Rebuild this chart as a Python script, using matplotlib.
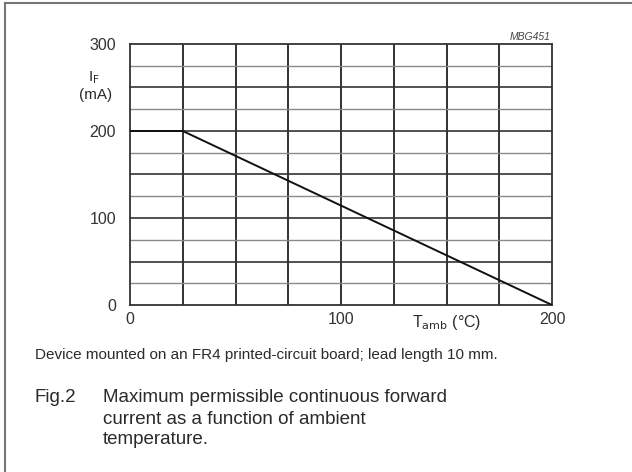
import matplotlib
matplotlib.use("Agg")
import matplotlib.pyplot as plt
from matplotlib.lines import Line2D

# Data
temp_c = [0, 25, 200]
current_ma = [200, 200, 0]
x_labels = ["0", "100", "200"]
x_label_pos = [0, 100, 200]
y_labels = ["0", "100", "200", "300"]
y_label_pos = [0, 100, 200, 300]
x_grid = [25, 50, 75, 100, 125, 150, 175]
y_grid_major = [50, 100, 150, 200, 250]
y_grid_minor = [25, 75, 125, 175, 225, 275]

plt.rcParams['font.family'] = ['Liberation Sans', 'DejaVu Sans']

fig = plt.figure(figsize=(6.32, 4.72), dpi=100)
W, H = 632, 472
ax = fig.add_axes([130 / W, 1 - 305 / H, (552 - 130) / W, (305 - 44) / H])
ax.set_xlim(0, 200)
ax.set_ylim(0, 300)

for x in x_grid:
    ax.axvline(x, color='#222222', lw=1.3, zorder=1)
for y in y_grid_major:
    ax.axhline(y, color='#333333', lw=1.2, zorder=1)
for y in y_grid_minor:
    ax.axhline(y, color='#8a8a8a', lw=1.0, zorder=1)

ax.plot(temp_c, current_ma, color='#111111', lw=1.4, zorder=3)

for s in ax.spines.values():
    s.set_color('#333333')
    s.set_linewidth(1.3)

ax.set_xticks(x_label_pos)
ax.set_xticklabels(x_labels)
ax.set_yticks(y_label_pos)
ax.set_yticklabels(y_labels)
ax.tick_params(length=0, labelsize=11.5, colors='#333333')
ax.tick_params(axis='x', pad=5)
ax.tick_params(axis='y', pad=10)

txt = '#2a2a2a'
fig.text(94 / W, 1 - 78 / H, r'I$_{\rm F}$', ha='center', va='center', fontsize=11, color=txt)
fig.text(96 / W, 1 - 95 / H, '(mA)', ha='center', va='center', fontsize=11, color=txt)
fig.text(447 / W, 1 - 322 / H, r'T$_{\rm amb}$ (°C)', ha='center', va='center', fontsize=11.5, color=txt)
fig.text(551 / W, 1 - 37 / H, 'MBG451', ha='right', va='center', fontsize=7.5, style='italic', color='#444444')

fig.text(35 / W, 1 - 355 / H, 'Device mounted on an FR4 printed-circuit board; lead length 10 mm.',
         ha='left', va='center', fontsize=11, color=txt)
fig.text(35 / W, 1 - 398 / H, 'Fig.2', ha='left', va='center', fontsize=13.5, color=txt)
fig.text(103 / W, 1 - 398 / H, 'Maximum permissible continuous forward', ha='left', va='center', fontsize=13.5, color=txt)
fig.text(103 / W, 1 - 419 / H, 'current as a function of ambient', ha='left', va='center', fontsize=13.5, color=txt)
fig.text(103 / W, 1 - 440 / H, 'temperature.', ha='left', va='center', fontsize=13.5, color=txt)

# outer frame (top and left edges)
fig.add_artist(Line2D([5 / W, 1.0], [1 - 3 / H, 1 - 3 / H], transform=fig.transFigure, color='#777777', lw=1.5))
fig.add_artist(Line2D([5 / W, 5 / W], [0, 1 - 3 / H], transform=fig.transFigure, color='#777777', lw=1.5))

fig.savefig('out.png', dpi=100)
